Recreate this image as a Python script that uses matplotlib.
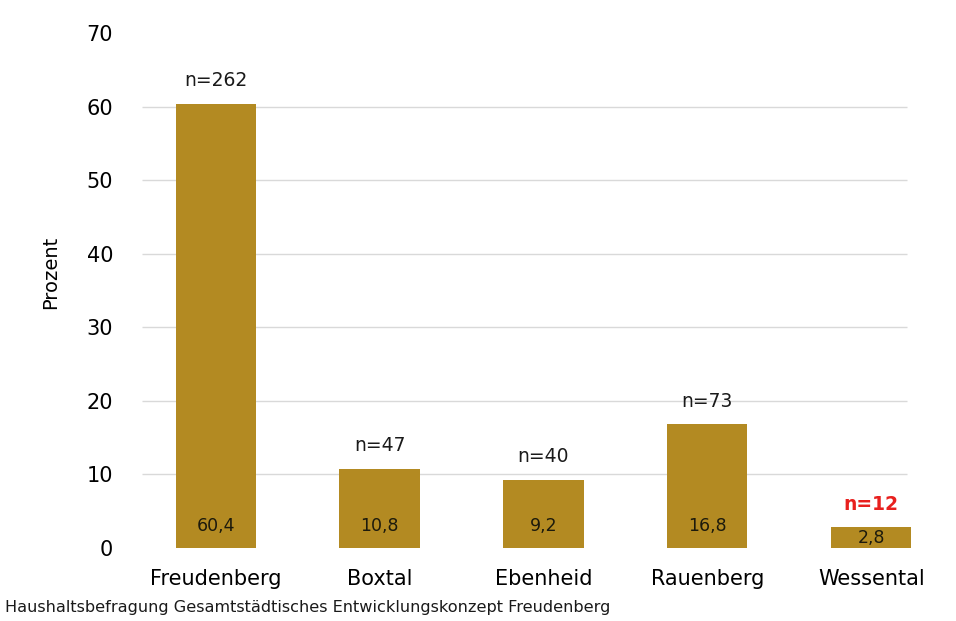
import matplotlib.pyplot as plt
import numpy as np

# Anteil der Haushalte je Stadtteil
orte = ['Freudenberg', 'Boxtal', 'Ebenheid', 'Rauenberg', 'Wessental']
prozent = [60.4, 10.8, 9.2, 16.8, 2.8]
fallzahl = [262, 47, 40, 73, 12]
n_farbe = ['#1a1a1a', '#1a1a1a', '#1a1a1a', '#1a1a1a', '#e8201e']

balken_farbe = '#B38A22'

fig = plt.figure(figsize=(9.56, 6.21), dpi=100)
ax = fig.add_axes([0.14, 0.1176, 0.857, 0.8285])

x = np.arange(len(orte))
ax.bar(x, prozent, width=0.49, color=balken_farbe, zorder=2)

ax.set_xlim(-0.5, 4.5)
ax.set_ylim(0, 70)
ax.set_yticks(range(0, 71, 10))

# Hilfslinien nur zwischen 10 und 60
ax.hlines(range(10, 61, 10), -0.45, 4.22, color='#d9d9d9', lw=1, zorder=1)

for s in ax.spines.values():
    s.set_visible(False)
ax.tick_params(axis='both', length=0)
ax.tick_params(axis='y', labelsize=15, pad=15)
ax.set_xticks(x)
ax.set_xticklabels(orte, fontsize=15)
ax.tick_params(axis='x', pad=15)
ax.set_ylabel('Prozent', fontsize=14)
ax.yaxis.set_label_coords(-0.09, 0.536)

for xi, v, n, c in zip(x, prozent, fallzahl, n_farbe):
    # Wert unten im Balken
    ax.text(xi, min(3.0, v / 2), f'{v:.1f}'.replace('.', ','), ha='center', va='center',
            fontsize=12.5, color='#1c1a0c', zorder=3)
    ax.annotate(f'n={n}', (xi, v), xytext=(0, 10), textcoords='offset points',
                ha='center', va='bottom', fontsize=13.5, color=c,
                fontweight='bold' if c != '#1a1a1a' else 'normal')

fig.text(0.005, 0.022, 'Haushaltsbefragung Gesamtstädtisches Entwicklungskonzept Freudenberg',
         fontsize=11.6, color='#1a1a1a', ha='left', va='center')

fig.savefig('out.png', dpi=100)
